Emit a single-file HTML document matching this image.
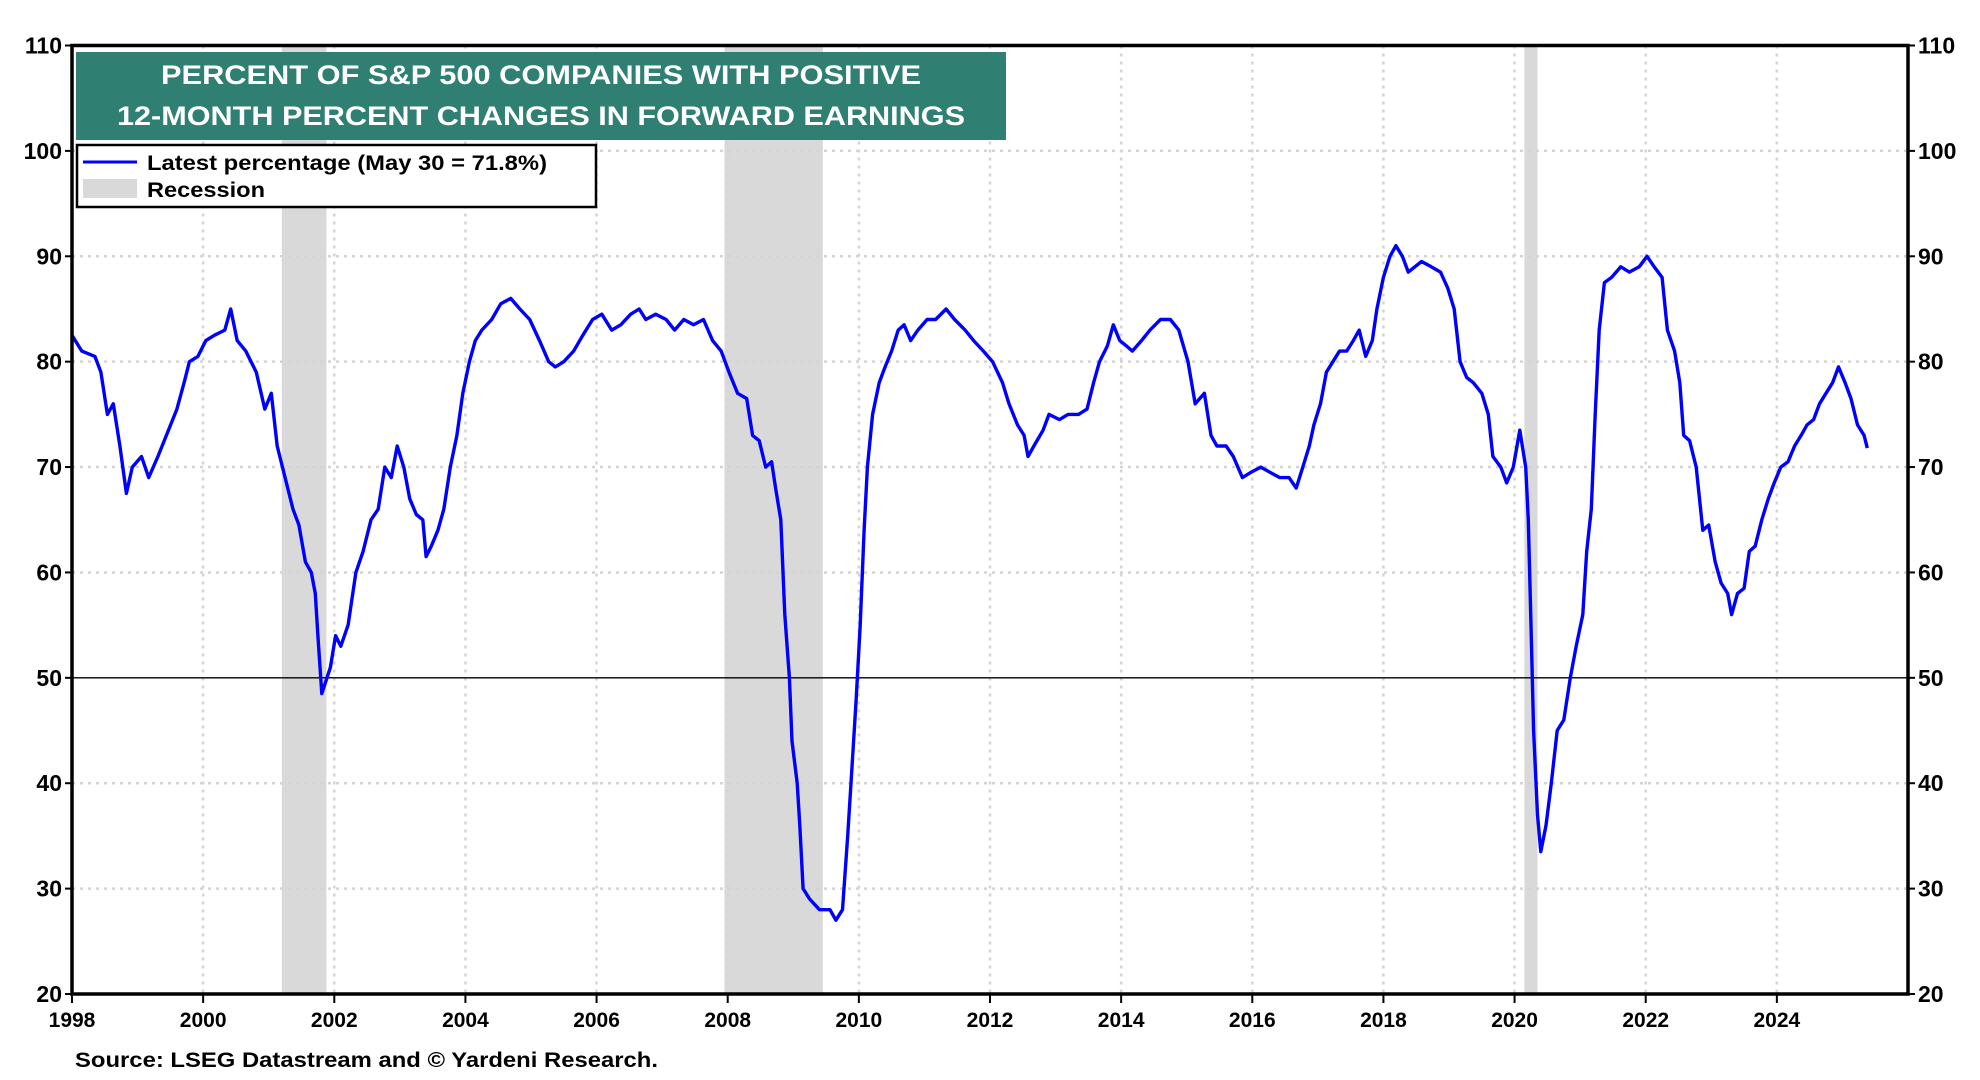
<!DOCTYPE html>
<html><head><meta charset="utf-8">
<style>
html,body{margin:0;padding:0;background:#fff;}
svg{display:block;font-family:"Liberation Sans",Arial,sans-serif;font-weight:bold;}
</style></head>
<body>
<svg id="chart" width="1980" height="1080" viewBox="0 0 1980 1080" xmlns="http://www.w3.org/2000/svg">
<g id="recessions"></g>
<g id="grid"></g>
<line id="fifty" stroke="#000" stroke-width="1.3"/>
<path id="series" fill="none" stroke="#0000ff" stroke-width="3.4" stroke-linejoin="round"/>
<g id="axes"></g>
<g id="ticks"></g>
<g>
<rect x="76" y="52" width="930" height="88" fill="#2f7f72"/>
<text x="541" y="84" fill="#fff" font-size="27" text-anchor="middle" textLength="760" lengthAdjust="spacingAndGlyphs">PERCENT OF S&amp;P 500 COMPANIES WITH POSITIVE</text>
<text x="541" y="125" fill="#fff" font-size="27" text-anchor="middle" textLength="848" lengthAdjust="spacingAndGlyphs">12-MONTH PERCENT CHANGES IN FORWARD EARNINGS</text>
</g>
<g>
<rect x="77" y="145" width="519" height="62" fill="#fff" stroke="#000" stroke-width="2.5"/>
<line x1="83" y1="162" x2="137" y2="162" stroke="#0000ff" stroke-width="3"/>
<text x="147" y="170" font-size="21" textLength="400" lengthAdjust="spacingAndGlyphs">Latest percentage (May 30 = 71.8%)</text>
<rect x="83" y="179" width="54" height="19" fill="#d9d9d9"/>
<text x="147" y="197" font-size="21" textLength="118" lengthAdjust="spacingAndGlyphs">Recession</text>
</g>
<text x="75" y="1067" font-size="21" textLength="583" lengthAdjust="spacingAndGlyphs">Source: LSEG Datastream and © Yardeni Research.</text>
</svg>
<script>
const yearsSince1998=[0,.15,.35,.44,.54,.63,.73,.83,.92,1.06,1.17,1.31,1.44,1.60,1.71,1.79,1.92,2.04,2.17,2.33,2.42,2.52,2.65,2.81,2.94,3.04,3.13,3.25,3.37,3.46,3.56,3.65,3.71,3.75,3.81,3.94,4.02,4.10,4.21,4.33,4.44,4.56,4.67,4.77,4.87,4.96,5.06,5.15,5.25,5.35,5.40,5.48,5.58,5.67,5.77,5.87,5.96,6.06,6.15,6.25,6.40,6.54,6.69,6.83,6.98,7.13,7.27,7.37,7.50,7.65,7.79,7.94,8.08,8.23,8.37,8.52,8.65,8.75,8.90,9.06,9.19,9.33,9.48,9.63,9.77,9.90,10.02,10.15,10.29,10.38,10.48,10.58,10.67,10.73,10.81,10.87,10.94,10.98,11.06,11.10,11.15,11.25,11.40,11.56,11.65,11.75,11.83,11.88,11.96,12.02,12.08,12.13,12.21,12.31,12.40,12.50,12.60,12.69,12.79,12.90,13.04,13.17,13.33,13.46,13.62,13.75,13.90,14.04,14.19,14.29,14.42,14.52,14.58,14.67,14.81,14.90,15.06,15.19,15.35,15.48,15.58,15.67,15.79,15.88,15.98,16.08,16.17,16.31,16.44,16.60,16.75,16.88,17.02,17.13,17.27,17.37,17.46,17.60,17.71,17.85,17.98,18.13,18.27,18.42,18.56,18.67,18.77,18.87,18.94,19.04,19.13,19.23,19.33,19.44,19.54,19.63,19.73,19.83,19.90,20.00,20.10,20.19,20.29,20.38,20.48,20.58,20.73,20.87,20.98,21.08,21.17,21.27,21.37,21.50,21.60,21.67,21.79,21.88,21.98,22.08,22.17,22.21,22.25,22.29,22.35,22.40,22.48,22.56,22.65,22.75,22.85,22.94,23.04,23.10,23.17,23.23,23.29,23.37,23.48,23.62,23.75,23.90,24.02,24.13,24.25,24.33,24.44,24.52,24.58,24.67,24.77,24.87,24.96,25.06,25.15,25.25,25.31,25.40,25.50,25.58,25.67,25.77,25.87,25.96,26.06,26.17,26.27,26.37,26.46,26.56,26.65,26.75,26.85,26.94,27.04,27.13,27.23,27.33,27.38];
const percentValues=[82.5,81,80.5,79,75,76,72,67.5,70,71,69,71,73,75.5,78,80,80.5,82,82.5,83,85,82,81,79,75.5,77,72,69,66,64.5,61,60,58,54,48.5,51,54,53,55,60,62,65,66,70,69,72,70,67,65.5,65,61.5,62.5,64,66,70,73,77,80,82,83,84,85.5,86,85,84,82,80,79.5,80,81,82.5,84,84.5,83,83.5,84.5,85,84,84.5,84,83,84,83.5,84,82,81,79,77,76.5,73,72.5,70,70.5,68,65,56,50,44,40,36,30,29,28,28,27,28,35,40,48,55,64,70,75,78,79.5,81,83,83.5,82,83,84,84,85,84,83,82,81,80,78,76,74,73,71,72,73.5,75,74.5,75,75,75.5,78,80,81.5,83.5,82,81.5,81,82,83,84,84,83,80,76,77,73,72,72,71,69,69.5,70,69.5,69,69,68,70,72,74,76,79,80,81,81,82,83,80.5,82,85,88,90,91,90,88.5,89,89.5,89,88.5,87,85,80,78.5,78,77,75,71,70,68.5,70,73.5,70,65,55,45,37,33.5,36,40,45,46,50,53,56,62,66,75,83,87.5,88,89,88.5,89,90,89,88,83,81,78,73,72.5,70,64,64.5,61,59,58,56,58,58.5,62,62.5,65,67,68.5,70,70.5,72,73,74,74.5,76,77,78,79.5,78,76.5,74,73,71.8];
const recessionStarts=[2001.2,2007.95,2020.15];
const recessionEnds=[2001.88,2009.45,2020.35];
const yTickValues=[20,30,40,50,60,70,80,90,100,110];
const xTickYears=[1998,2000,2002,2004,2006,2008,2010,2012,2014,2016,2018,2020,2022,2024];

const L=72,R=1908,T=45.5,B=994,X0=1998,X1=2026,Y0=20,Y1=110;
const NS='http://www.w3.org/2000/svg';
function xs(yr){return L+(yr-X0)/(X1-X0)*(R-L);}
function ys(v){return B-(v-Y0)/(Y1-Y0)*(B-T);}
function mk(tag,attrs,parent){const e=document.createElementNS(NS,tag);for(const k in attrs)e.setAttribute(k,attrs[k]);parent.appendChild(e);return e;}

const rg=document.getElementById('recessions');
recessionStarts.forEach((s,i)=>{
  const r=mk('rect',{x:xs(s),y:T,width:xs(recessionEnds[i])-xs(s),height:B-T,fill:'#d9d9d9'},rg);
  
  
});
const gg=document.getElementById('grid');
yTickValues.forEach(v=>{
  if(v===Y0||v===Y1||v===50)return;
  const l=mk('line',{x1:L,x2:R,y1:ys(v),y2:ys(v),stroke:'#d4d4d4','stroke-width':2.5,'stroke-dasharray':'3 5'},gg);
  
  
});
xTickYears.forEach(y=>{
  if(y===X0)return;
  const l=mk('line',{x1:xs(y),x2:xs(y),y1:T,y2:B,stroke:'#d4d4d4','stroke-width':2.5,'stroke-dasharray':'3 5'},gg);
  
  
});
const f=document.getElementById('fifty');
f.setAttribute('x1',L);f.setAttribute('x2',R);f.setAttribute('y1',ys(50));f.setAttribute('y2',ys(50));

let d='';
yearsSince1998.forEach((t,i)=>{d+=(i?'L':'M')+xs(X0+t).toFixed(1)+' '+ys(percentValues[i]).toFixed(1);});
document.getElementById('series').setAttribute('d',d);

const ax=document.getElementById('axes');
const frame=mk('rect',{x:L,y:T,width:R-L,height:B-T,fill:'none',stroke:'#000','stroke-width':3.5},ax);


const tk=document.getElementById('ticks');
yTickValues.forEach(v=>{
  mk('line',{x1:L-7,x2:L,y1:ys(v),y2:ys(v),stroke:'#000','stroke-width':2},ax);
  mk('line',{x1:R,x2:R+7,y1:ys(v),y2:ys(v),stroke:'#000','stroke-width':2},ax);
  const a=mk('text',{x:L-10,y:ys(v)+8,'font-size':23,'text-anchor':'end'},tk);
  a.textContent=v;
  
  
  const b=mk('text',{x:R+10,y:ys(v)+8,'font-size':23,'text-anchor':'start'},tk);
  b.textContent=v;
  
  
});
xTickYears.forEach(y=>{
  mk('line',{x1:xs(y),x2:xs(y),y1:B,y2:B+9,stroke:'#000','stroke-width':2},ax);
  const t=mk('text',{x:xs(y),y:1027,'font-size':21,'text-anchor':'middle'},tk);
  t.textContent=y;
  
  
});
</script>
</body></html>
